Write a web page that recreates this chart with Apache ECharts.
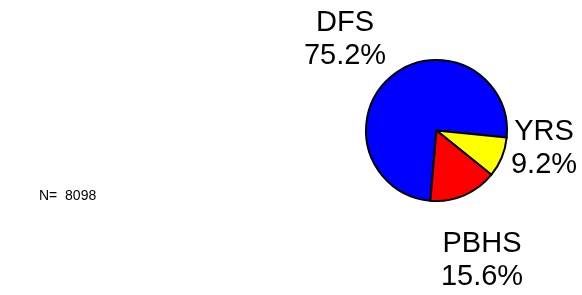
<!DOCTYPE html>
<html>
<head>
<meta charset="utf-8">
<script src="https://cdn.jsdelivr.net/npm/echarts@6/dist/echarts.min.js"></script>
<style>
html,body{margin:0;padding:0;background:#fff;}
#chart{width:582px;height:295px;}
</style>
</head>
<body>
<div id="chart"></div>
<script>
// Data
var categories = ['DFS', 'YRS', 'PBHS'];
var percents = [75.2, 9.2, 15.6];
var colors = ['#0000ff', '#ffff00', '#ff0000'];
var totalN = 8098;

// label anchor points (layout, not data)
var labelAnchors = {
  DFS: [345, 39],
  YRS: [544, 148],
  PBHS: [482, 260]
};

var chart = echarts.init(document.getElementById('chart'), null, {renderer: 'canvas'});
var pieData = categories.map(function (c, i) {
  return { name: c, value: percents[i], itemStyle: { color: colors[i] } };
});

chart.setOption({
  backgroundColor: '#ffffff',
  animation: false,
  graphic: [{
    type: 'text',
    left: 39,
    top: 189,
    style: {
      text: 'N=  ' + totalN,
      font: '14px "Liberation Sans", Arial, sans-serif',
      fill: '#000'
    }
  }],
  series: [{
    type: 'pie',
    center: [436.5, 130.5],
    radius: 70.5,
    startAngle: 265,
    clockwise: true,
    data: pieData,
    itemStyle: { borderColor: '#000', borderWidth: 2 },
    emphasis: { disabled: true },
    labelLine: { show: false },
    label: {
      show: true,
      position: 'outside',
      overflow: 'none',
      width: 200,
      formatter: function (p) { return p.name + '\n' + p.value.toFixed(1) + '%'; },
      fontFamily: '"Liberation Sans", Arial, sans-serif',
      fontSize: 29,
      lineHeight: 33,
      color: '#000',
      align: 'center'
    },
    labelLayout: function (params) {
      var a = labelAnchors[categories[params.dataIndex]];
      return { x: a[0], y: a[1], align: 'center', verticalAlign: 'middle', hideOverlap: false };
    }
  }]
});
</script>
</body>
</html>
